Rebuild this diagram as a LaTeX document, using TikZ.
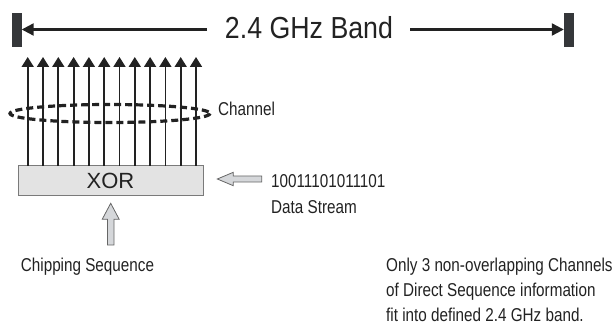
\documentclass[tikz,border=0pt]{standalone}
\usepackage{fontspec}
\setmainfont{Liberation Sans}[FakeStretch=0.82]
\newfontfamily\titlefont{Liberation Sans}[FakeStretch=0.88]
\newfontfamily\xorfont{Liberation Sans}
\usetikzlibrary{arrows.meta}
\definecolor{ink}{HTML}{222222}
\definecolor{barc}{HTML}{35373A}
\definecolor{boxfill}{HTML}{E3E3E3}
\definecolor{boxline}{HTML}{7A7A7A}
\definecolor{hollowfill}{HTML}{D5D7DA}
\definecolor{hollowline}{HTML}{666666}
\tikzset{
  endbar/.style={fill=barc,draw=none,minimum width=9.5pt,minimum height=34pt,inner sep=0pt},
  bandline/.style={draw=ink,line width=2.2pt},
  bandtip/.style={-{Triangle[length=12pt,width=12pt]}},
  chan/.style={draw=ink,line width=1.8pt,-{Triangle[length=10pt,width=12pt]}},
  xorbox/.style={fill=boxfill,draw=boxline,line width=1pt,minimum width=185pt,minimum height=29pt,inner sep=0pt,font=\xorfont\fontsize{22}{24}\selectfont,text=ink},
  lbl/.style={anchor=base west,inner sep=0pt,text=ink,font=\fontsize{18.6}{21}\selectfont},
  hollow/.style={fill=hollowfill,draw=hollowline,line width=0.8pt,line join=miter}
}
\begin{document}
\begin{tikzpicture}[x=1pt,y=-1pt]
\useasboundingbox (0,0) rectangle (615,331);
% band
\node[endbar] (lb) at (16.75,30) {};
\node[endbar] (rb) at (568.75,30) {};
\node[anchor=base,inner sep=0pt,text=ink,font=\titlefont\fontsize{30.4}{32}\selectfont] (band) at (309,38.3) {2.4 GHz Band};
\coordinate (bl) at (207,29.5);
\coordinate (br) at (410,29.5);
\draw[bandline,bandtip] (bl) -- (lb.east |- bl);
\draw[bandline,bandtip] (br) -- (rb.west |- br);
% XOR box
\node[xorbox] (xor) at (110.5,180.5) {XOR};
% channel arrows
\foreach \i in {0,...,11}{
  \coordinate (t\i) at ({27.7+15.3*\i},57);
  \draw[chan] ({27.7+15.3*\i},166) -- (t\i);
}
% dashed ellipse
\draw[ink,line width=3.2pt,dash pattern=on 7pt off 4pt] (110,113.5) ellipse [x radius=100,y radius=9];
\node[lbl] (ch) at (218,115.7) {Channel};
% data stream arrow
\draw[hollow] (217.3,179) -- (233.3,172.3) -- (233.3,176) -- (261.7,176) -- (261.7,182) -- (233.3,182) -- (233.3,185.7) -- cycle;
\node[lbl] (bits) at (271,187.3) {10011101011101};
\node[lbl] (ds) at (271,213) {Data Stream};
% chipping arrow
\draw[hollow] (110.7,203.3) -- (119.2,219.3) -- (114,219.3) -- (114,245) -- (107.4,245) -- (107.4,219.3) -- (102.2,219.3) -- cycle;
\node[lbl] (chip) at (20.7,271.8) {Chipping Sequence};
% note
\node[lbl] (n1) at (386,271.8) {Only 3 non-overlapping Channels};
\node[lbl] (n2) at (386,296.5) {of Direct Sequence information};
\node[lbl] (n3) at (386,321.4) {fit into defined 2.4 GHz band.};
\end{tikzpicture}
\end{document}
